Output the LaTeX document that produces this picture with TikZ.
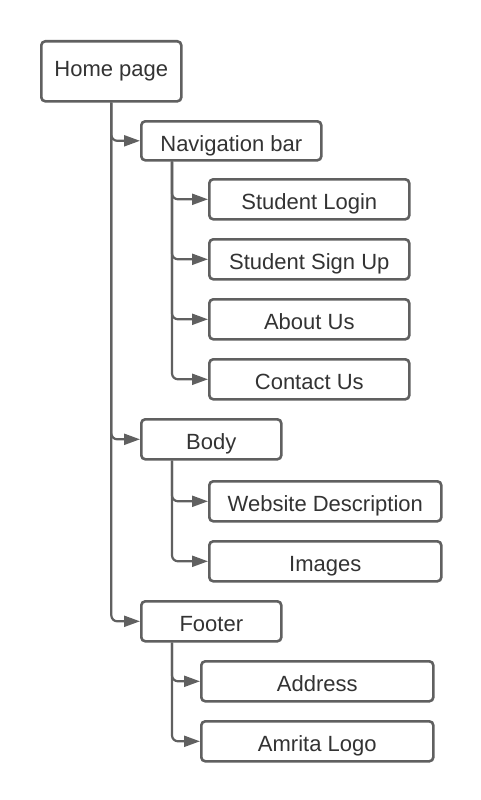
\documentclass[tikz,border=0pt]{standalone}
\usepackage{fontspec}
\setmainfont{Liberation Sans}
\usetikzlibrary{arrows.meta}
\definecolor{edge}{HTML}{606060}
\definecolor{ink}{HTML}{333333}
\tikzset{
  box/.style={draw=edge, line width=2.6pt, rounded corners=4pt, fill=white,
    text=ink, font=\fontsize{22}{26}\selectfont, inner sep=0pt, anchor=north west,
    text height=21pt, text depth=0pt},
  topbox/.style={box, text height=16pt, text depth=5pt},
  conn/.style={draw=edge, line width=2.2pt, rounded corners=6pt,
    -{Triangle[length=16pt,width=11pt]}},
}
\begin{document}
\begin{tikzpicture}[x=1pt,y=-1pt]
\useasboundingbox (0,0) rectangle (480,800);
% top level
\node[topbox, minimum width=140pt, minimum height=60pt] (home) at (40,40) {Home page};
% second level
\node[box, minimum width=180pt, minimum height=39pt] (nav) at (140,120) {Navigation bar};
\node[box, minimum width=140pt, minimum height=40pt] (body) at (140,418) {Body};
\node[box, minimum width=140pt, minimum height=40pt] (foot) at (140,600) {Footer};
% navigation bar items
\node[box, minimum width=200pt, minimum height=40pt] (login) at (208,178) {Student Login};
\node[box, minimum width=200pt, minimum height=40pt] (signup) at (208,238) {Student Sign Up};
\node[box, minimum width=200pt, minimum height=40pt] (about) at (208,298) {About Us};
\node[box, minimum width=200pt, minimum height=40pt] (contact) at (208,358) {Contact Us};
% body items
\node[box, minimum width=232pt, minimum height=40pt] (desc) at (208,480) {Website Description};
\node[box, minimum width=232pt, minimum height=40pt] (img) at (208,540) {Images};
% footer items
\node[box, minimum width=232pt, minimum height=40pt] (addr) at (200,660) {Address};
\node[box, minimum width=232pt, minimum height=40pt] (logo) at (200,720) {Amrita Logo};
% branch start points
\coordinate (navtrunk) at ([xshift=32pt]nav.south west);
\coordinate (bodytrunk) at ([xshift=32pt]body.south west);
\coordinate (foottrunk) at ([xshift=32pt]foot.south west);
% connectors
\draw[conn] (home.south) |- (nav.west);
\draw[conn] (home.south) |- (body.west);
\draw[conn] (home.south) |- (foot.west);
\draw[conn] (navtrunk) |- (login.west);
\draw[conn] (navtrunk) |- (signup.west);
\draw[conn] (navtrunk) |- (about.west);
\draw[conn] (navtrunk) |- (contact.west);
\draw[conn] (bodytrunk) |- (desc.west);
\draw[conn] (bodytrunk) |- (img.west);
\draw[conn] (foottrunk) |- (addr.west);
\draw[conn] (foottrunk) |- (logo.west);
\end{tikzpicture}
\end{document}
